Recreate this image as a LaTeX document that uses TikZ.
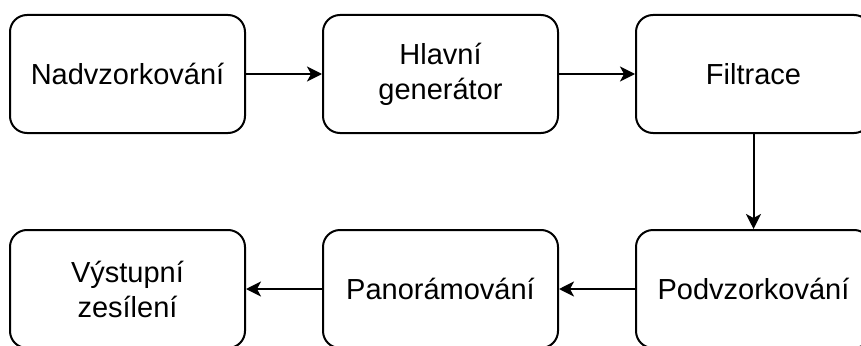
\documentclass[tikz,border=0pt]{standalone}
\usepackage{fontspec}
\setmainfont{Liberation Sans}
\usetikzlibrary{arrows.meta}
\begin{document}
\begin{tikzpicture}[x=1pt,y=-1pt,
  stage/.style={draw=black,line width=2pt,rounded corners=17pt,
    minimum width=235pt,minimum height=118pt,inner sep=0pt,align=center,
    font=\fontsize{29}{35}\selectfont},
  flow/.style={draw=black,line width=2pt,
    -{Stealth[length=15pt,width=15pt,inset=4pt]}}]
  \useasboundingbox (0,0) rectangle (861,345);
  \clip (0,0) rectangle (861,345);
  \node[stage] (nad) at (127.5,74) {Nadvzorkování};
  \node[stage] (gen) at (440.5,74) {Hlavní\\generátor};
  \node[stage] (fil) at (753.5,74) {Filtrace};
  \node[stage] (pod) at (753.5,289) {Podvzorkování};
  \node[stage] (pan) at (440.5,289) {Panorámování};
  \node[stage] (vys) at (127.5,289) {Výstupní\\zesílení};
  \draw[flow] (nad) -- (gen);
  \draw[flow] (gen) -- (fil);
  \draw[flow] (fil) -- (pod);
  \draw[flow] (pod) -- (pan);
  \draw[flow] (pan) -- (vys);
\end{tikzpicture}
\end{document}
